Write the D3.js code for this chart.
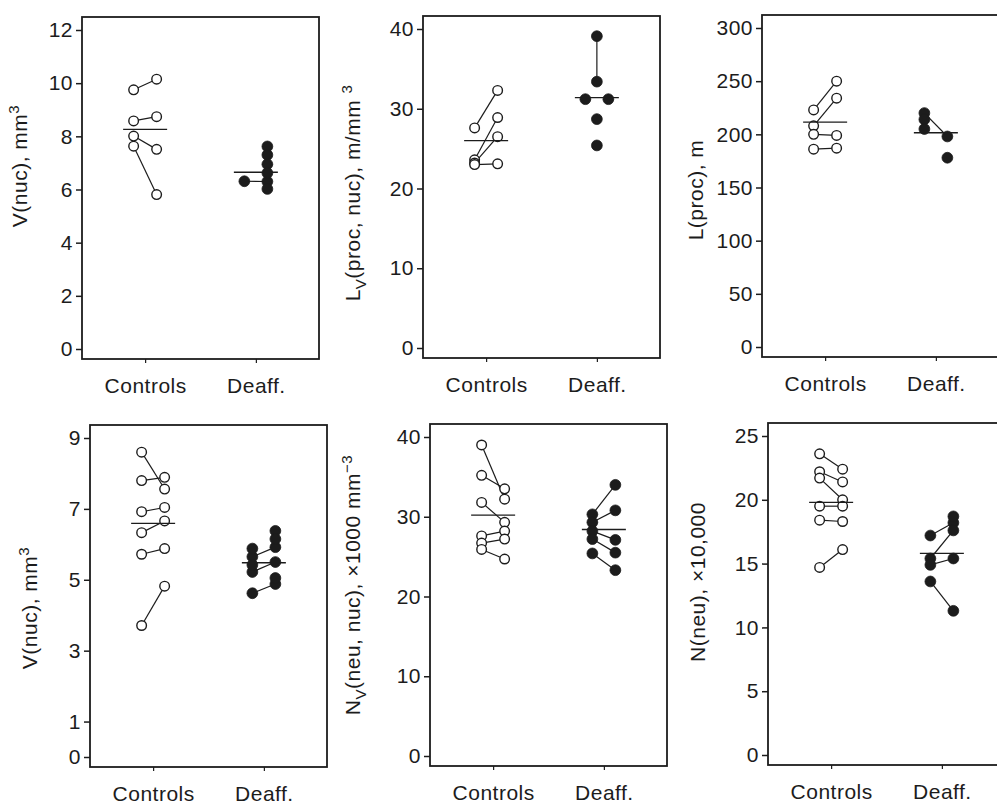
<!DOCTYPE html>
<html>
<head>
<meta charset="utf-8">
<script src="https://cdn.jsdelivr.net/npm/d3@7"></script>
<style>
body{margin:0;background:#fff;}
text{font-family:"Liberation Sans",Arial,Helvetica,sans-serif;fill:#1c1c1c;letter-spacing:0.5px;}
</style>
</head>
<body>
<svg id="chart" width="997" height="805"></svg>
<script>
var categories = ["Controls", "Deaff."];
var sides = ["L", "C", "R"];

// tick values of each panel
var ticksVnucTop = [0, 2, 4, 6, 8, 10, 12];
var ticksLv = [0, 10, 20, 30, 40];
var ticksLproc = [0, 50, 100, 150, 200, 250, 300];
var ticksVnucBottom = [0, 1, 3, 5, 7, 9];
var ticksNv = [0, 10, 20, 30, 40];
var ticksNneu = [0, 5, 10, 15, 20, 25];

// each strand = points joined by a line, point = [side, value]
var vnucTopControls = [[["L",9.75],["R",10.15]], [["L",8.58],["R",8.74]], [["L",8.01],["R",7.51]], [["L",7.63],["R",5.81]]];
var vnucTopDeaff = [[["L",6.31],["R",6.3]], [["R",7.62]], [["R",7.3]], [["R",6.95]], [["R",6.62]], [["R",6.02]]];
var vnucTopMeans = [8.26, 6.65];

var lvControls = [[["L",27.6],["R",32.3]], [["L",23.6],["R",28.9]], [["L",23.2],["R",26.5]], [["L",23.0],["R",23.1]]];
var lvDeaff = [[["C",39.1],["C",33.4]], [["L",31.2]], [["R",31.2]], [["C",28.7]], [["C",25.4]]];
var lvMeans = [26.0, 31.4];

var lprocControls = [[["L",223],["R",250]], [["L",208],["R",234]], [["L",200],["R",199]], [["L",186],["R",187]]];
var lprocDeaff = [[["L",220],["R",198]], [["L",214]], [["L",205]], [["R",178]]];
var lprocMeans = [211.5, 201.5];

var vnucBottomControls = [[["L",8.60],["R",7.56]], [["L",7.80],["R",7.89]], [["L",6.92],["R",7.04]], [["L",6.33],["R",6.66]], [["L",5.72],["R",5.88]], [["L",3.71],["R",4.82]]];
var vnucBottomDeaff = [[["L",5.65],["R",5.92]], [["L",5.22],["R",5.50]], [["L",4.62],["R",4.88]], [["L",5.88]], [["L",5.42]], [["R",6.38]], [["R",6.15]], [["R",5.05]]];
var vnucBottomMeans = [6.59, 5.48];

var nvControls = [[["L",39.0],["R",32.2]], [["L",35.2],["R",33.5]], [["L",31.8],["R",29.3]], [["L",27.6],["R",28.2]], [["L",26.7],["R",27.2]], [["L",25.9],["R",24.7]]];
var nvDeaff = [[["L",30.3],["R",34.0]], [["L",29.3],["R",30.8]], [["L",28.2],["R",27.1]], [["L",27.2],["R",25.5]], [["L",25.4],["R",23.3]]];
var nvMeans = [30.2, 28.4];

var nneuControls = [[["L",23.6],["R",22.4]], [["L",22.2],["R",21.4]], [["L",21.7],["R",20.0]], [["L",19.5],["R",19.5]], [["L",18.4],["R",18.3]], [["L",14.7],["R",16.1]]];
var nneuDeaff = [[["L",17.2],["R",18.2]], [["L",15.4],["R",17.6]], [["L",14.9],["R",15.4]], [["L",13.6],["R",11.3]], [["R",18.7]]];
var nneuMeans = [19.8, 15.8];

// axis titles, parts: [text, "" | "sub" | "sup"]
var titleVnuc = [["V(nuc), mm",""],["3","sup"]];
var titleLv = [["L",""],["V","sub"],["(proc, nuc), m/mm ",""],["3","sup"]];
var titleLproc = [["L(proc), m",""]];
var titleNv = [["N",""],["V","sub"],["(neu, nuc), \u00d71000 mm",""],["\u22123","sup"]];
var titleNneu = [["N(neu), \u00d710,000",""]];

var W = 237, H = 342;
var svg = d3.select("#chart");
var ink = "#1c1c1c";

var panels = [
	{x:82,  y:17,  ticks:ticksVnucTop,    groups:[vnucTopControls, vnucTopDeaff],       means:vnucTopMeans,    title:titleVnuc,  tx:-55, ty:-22},
	{x:423, y:16,  ticks:ticksLv,         groups:[lvControls, lvDeaff],                 means:lvMeans,         title:titleLv,    tx:-63, ty:6},
	{x:762, y:15,  ticks:ticksLproc,      groups:[lprocControls, lprocDeaff],           means:lprocMeans,      title:titleLproc, tx:-59, ty:4},
	{x:90,  y:425, ticks:ticksVnucBottom, groups:[vnucBottomControls, vnucBottomDeaff], means:vnucBottomMeans, title:titleVnuc,  tx:-53, ty:12},
	{x:430, y:424, ticks:ticksNv,         groups:[nvControls, nvDeaff],                 means:nvMeans,         title:titleNv,    tx:-70, ty:-10},
	{x:768, y:423, ticks:ticksNneu,       groups:[nneuControls, nneuDeaff],             means:nneuMeans,       title:titleNneu,  tx:-63, ty:-12}
];

function drawPanel(p){
	var g = svg.append("g").attr("transform", "translate(" + p.x + "," + p.y + ")");
	var y = d3.scaleLinear().domain([0, d3.max(p.ticks)]).range([H - 10, 13]);
	var x = d3.scalePoint().domain(categories).range([0, W]).padding(0.57);
	var s = d3.scalePoint().domain(sides).range([-11.5, 11.5]);

	g.append("rect")
		.attr("width", W).attr("height", H)
		.attr("fill", "none").attr("stroke", ink).attr("stroke-width", 1.8);

	var ya = g.append("g").call(d3.axisLeft(y).tickValues(p.ticks).tickSize(6).tickPadding(3));
	ya.select(".domain").remove();
	ya.selectAll("line").attr("stroke", ink).attr("stroke-width", 1.5);
	ya.selectAll("text").attr("font-size", 21).attr("font-family", null).attr("fill", ink);

	var xa = g.append("g").attr("transform", "translate(0," + H + ")")
		.call(d3.axisBottom(x).tickSize(4).tickPadding(15));
	xa.select(".domain").remove();
	xa.selectAll("line").attr("stroke", ink).attr("stroke-width", 1.2);
	xa.selectAll("text").attr("font-size", 21).attr("font-family", null).attr("fill", ink);

	var line = d3.line()
		.x(function(d){ return d.cx; })
		.y(function(d){ return y(d[1]); });

	p.groups.forEach(function(strands, gi){
		var cat = categories[gi];
		var filled = gi == 1;
		strands.forEach(function(st){ st.forEach(function(d){ d.cx = x(cat) + s(d[0]); }); });

		g.selectAll(null).data(strands.filter(function(st){ return st.length > 1; }))
			.enter().append("path")
			.attr("d", line)
			.attr("fill", "none").attr("stroke", ink).attr("stroke-width", 1.2);

		var pts = [].concat.apply([], strands);
		g.selectAll(null).data(pts).enter().append("circle")
			.attr("cx", function(d){ return d.cx; })
			.attr("cy", function(d){ return y(d[1]); })
			.attr("r", filled ? 5.4 : 4.8)
			.attr("fill", filled ? ink : "#fff")
			.attr("stroke", ink)
			.attr("stroke-width", filled ? 0.8 : 1.4);

		g.append("line")
			.attr("x1", x(cat) - 22).attr("x2", x(cat) + 22)
			.attr("y1", y(p.means[gi])).attr("y2", y(p.means[gi]))
			.attr("stroke", ink).attr("stroke-width", 1.4);
	});

	// rotated axis title with sub / superscripts
	var t = g.append("text")
		.attr("transform", "translate(" + p.tx + "," + (H / 2 + p.ty) + ") rotate(-90)")
		.attr("text-anchor", "middle")
		.attr("font-size", 21);
	var cur = 0;
	p.title.forEach(function(part){
		var off = part[1] == "sup" ? -8 : (part[1] == "sub" ? 6 : 0);
		t.append("tspan")
			.attr("dy", off - cur)
			.attr("font-size", part[1] ? 15 : 21)
			.text(part[0]);
		cur = off;
	});
}

panels.forEach(drawPanel);
</script>
</body>
</html>
